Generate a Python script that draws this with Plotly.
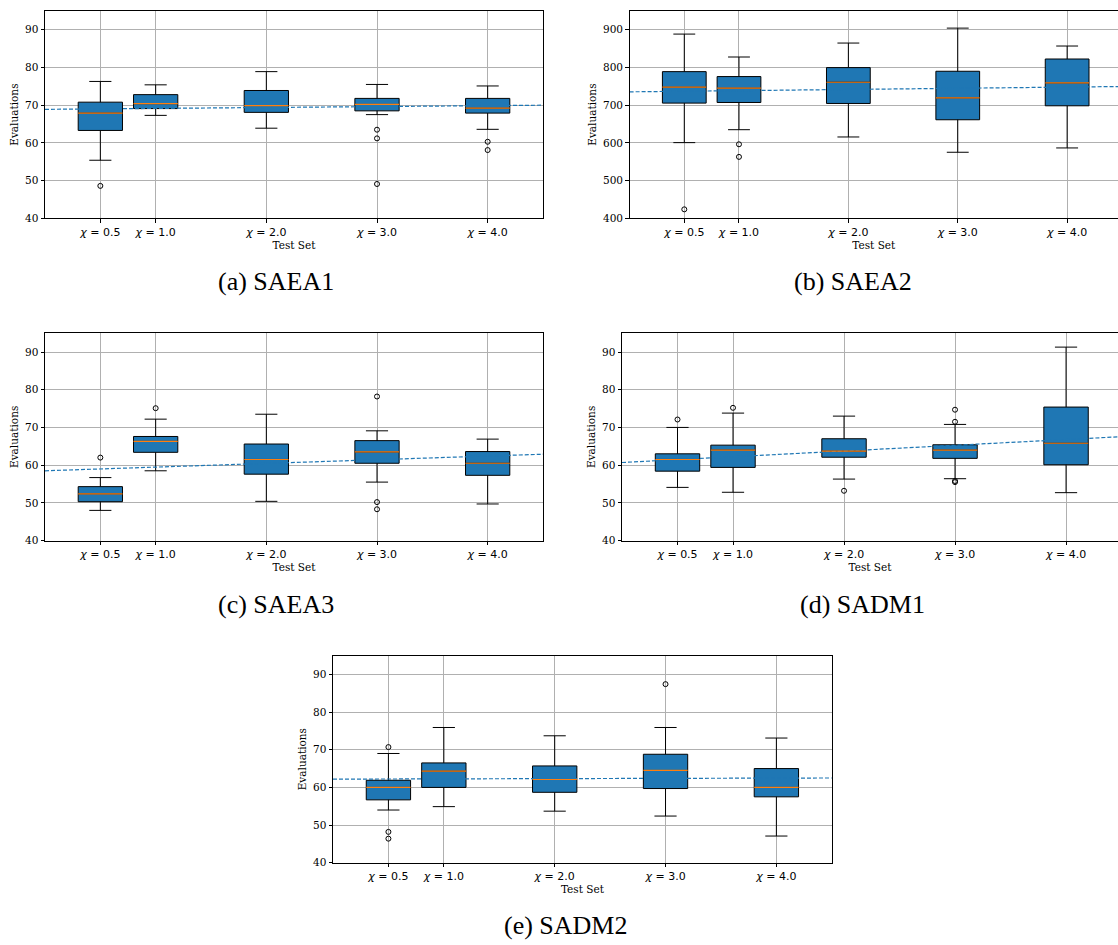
import plotly.graph_objects as go

# Test-set positions and labels
positions = [0.5, 1.0, 2.0, 3.0, 4.0]
tick_labels = ["<i>χ</i> = 0.5", "<i>χ</i> = 1.0", "<i>χ</i> = 2.0", "<i>χ</i> = 3.0", "<i>χ</i> = 4.0"]

# SAEA1
saea1_low = [55.4, 67.3, 63.9, 67.5, 63.6]
saea1_q1 = [63.3, 69.1, 68.1, 68.5, 67.9]
saea1_med = [67.9, 70.4, 69.9, 70.2, 69.2]
saea1_q3 = [70.8, 72.8, 73.9, 71.8, 71.8]
saea1_high = [76.3, 75.4, 78.9, 75.5, 75.1]
saea1_out_x = [0.5, 3.0, 3.0, 3.0, 4.0, 4.0]
saea1_out_y = [48.6, 63.5, 61.2, 49.1, 60.3, 58.1]
saea1_trend = [68.9, 70.0]

# SAEA2
saea2_low = [600.7, 635.0, 615.7, 575.2, 586.6]
saea2_q1 = [705.5, 707.2, 704.6, 661.4, 698.4]
saea2_med = [747.7, 745.0, 760.9, 719.5, 759.1]
saea2_q3 = [789.0, 775.9, 799.7, 790.0, 822.5]
saea2_high = [888.6, 827.8, 864.8, 904.4, 856.9]
saea2_out_x = [0.5, 1.0, 1.0]
saea2_out_y = [423.8, 596.3, 562.9]
saea2_trend = [735.4, 749.6]

# SAEA3
saea3_low = [48.0, 58.5, 50.4, 55.5, 49.7]
saea3_q1 = [50.3, 63.4, 57.6, 60.5, 57.3]
saea3_med = [52.4, 66.3, 61.5, 63.5, 60.5]
saea3_q3 = [54.3, 67.6, 65.6, 66.5, 63.6]
saea3_high = [56.7, 72.2, 73.5, 69.1, 66.9]
saea3_out_x = [0.5, 1.0, 3.0, 3.0, 3.0]
saea3_out_y = [62.0, 75.1, 78.2, 50.2, 48.3]
saea3_trend = [58.5, 62.9]

# SADM1
sadm1_low = [54.1, 52.8, 56.3, 56.4, 52.7]
sadm1_q1 = [58.4, 59.4, 62.1, 61.8, 60.1]
sadm1_med = [61.5, 64.0, 63.7, 64.0, 65.8]
sadm1_q3 = [63.0, 65.3, 67.0, 65.4, 75.4]
sadm1_high = [70.0, 73.8, 73.0, 70.8, 91.3]
sadm1_out_x = [0.5, 1.0, 2.0, 3.0, 3.0, 3.0, 3.0]
sadm1_out_y = [72.1, 75.2, 53.2, 74.7, 71.5, 55.8, 55.5]
sadm1_trend = [60.7, 67.55]

# SADM2
sadm2_low = [54.0, 54.9, 53.7, 52.4, 47.1]
sadm2_q1 = [56.7, 60.0, 58.7, 59.7, 57.5]
sadm2_med = [60.0, 64.3, 62.1, 64.5, 60.0]
sadm2_q3 = [61.9, 66.5, 65.7, 68.8, 65.0]
sadm2_high = [69.0, 75.9, 73.7, 75.9, 73.1]
sadm2_out_x = [0.5, 0.5, 0.5, 3.0]
sadm2_out_y = [70.7, 48.2, 46.4, 87.4]
sadm2_trend = [62.2, 62.5]

captions = ["(a) SAEA1", "(b) SAEA2", "(c) SAEA3", "(d) SADM1", "(e) SADM2"]

BLUE = "#1f77b4"
ORANGE = "#ff7f0e"
GRID = "#b0b0b0"
BOX_W = 0.4
X_SPAN = [0.0, 4.5]

W, H = 1118, 945


def px_x(a, b):
    return [a / W, b / W]


def px_y(top, bottom):
    return [1 - bottom / H, 1 - top / H]


panels = [
    dict(data=(saea1_low, saea1_q1, saea1_med, saea1_q3, saea1_high, saea1_out_x, saea1_out_y, saea1_trend),
         dx=px_x(45, 543), dy=px_y(11, 219.7), xr=[0, 4.5], yr=[40, 95], yt=[40, 50, 60, 70, 80, 90],
         clipped=False, cap=(276, 283)),
    dict(data=(saea2_low, saea2_q1, saea2_med, saea2_q3, saea2_high, saea2_out_x, saea2_out_y, saea2_trend),
         dx=[629.6 / W, 1.0], dy=px_y(11, 219.7), xr=[0, 4.465], yr=[400, 950],
         yt=[400, 500, 600, 700, 800, 900], clipped=True, cap=(853, 283)),
    dict(data=(saea3_low, saea3_q1, saea3_med, saea3_q3, saea3_high, saea3_out_x, saea3_out_y, saea3_trend),
         dx=px_x(45, 543), dy=px_y(335.3, 544), xr=[0, 4.5], yr=[40, 95], yt=[40, 50, 60, 70, 80, 90],
         clipped=False, cap=(276, 608)),
    dict(data=(sadm1_low, sadm1_q1, sadm1_med, sadm1_q3, sadm1_high, sadm1_out_x, sadm1_out_y, sadm1_trend),
         dx=[622 / W, 1.0], dy=px_y(335.3, 544), xr=[0, 4.468], yr=[40, 95], yt=[40, 50, 60, 70, 80, 90],
         clipped=True, cap=(862, 608)),
    dict(data=(sadm2_low, sadm2_q1, sadm2_med, sadm2_q3, sadm2_high, sadm2_out_x, sadm2_out_y, sadm2_trend),
         dx=px_x(333, 831.8), dy=px_y(659.7, 868.3), xr=[0, 4.5], yr=[40, 95], yt=[40, 50, 60, 70, 80, 90],
         clipped=False, cap=(566, 931)),
]

fig = go.Figure()
layout = dict(
    width=W, height=H, margin=dict(l=0, r=0, t=0, b=0),
    paper_bgcolor="white", plot_bgcolor="white", showlegend=False,
    annotations=[],
)

for i, p in enumerate(panels):
    n = i + 1
    xa = "x" if n == 1 else f"x{n}"
    ya = "y" if n == 1 else f"y{n}"
    low, q1, med, q3, high, ox, oy, trend = p["data"]

    # dashed trend line across the full test-set span
    fig.add_trace(go.Scatter(
        x=X_SPAN, y=trend, mode="lines", xaxis=xa, yaxis=ya,
        line=dict(color=BLUE, width=1.2, dash="4px,2px"), hoverinfo="skip",
    ))

    # boxes from precomputed quartiles and whisker ends
    fig.add_trace(go.Box(
        x=positions, q1=q1, median=med, q3=q3, lowerfence=low, upperfence=high,
        width=BOX_W, whiskerwidth=0.5, fillcolor=BLUE,
        line=dict(color="black", width=1), boxpoints=False,
        xaxis=xa, yaxis=ya,
    ))

    # orange median bars across each box
    mx, my = [], []
    for pos, m in zip(positions, med):
        mx += [pos - BOX_W / 2, pos + BOX_W / 2, None]
        my += [m, m, None]
    fig.add_trace(go.Scatter(
        x=mx, y=my, mode="lines", xaxis=xa, yaxis=ya,
        line=dict(color=ORANGE, width=1.2), hoverinfo="skip",
    ))

    # outliers
    fig.add_trace(go.Scatter(
        x=ox, y=oy, mode="markers", xaxis=xa, yaxis=ya,
        marker=dict(symbol="circle-open", size=5, color="black", line=dict(width=1)),
        hoverinfo="skip",
    ))

    xkey = "xaxis" if n == 1 else f"xaxis{n}"
    ykey = "yaxis" if n == 1 else f"yaxis{n}"
    layout[xkey] = dict(
        domain=p["dx"], range=p["xr"], anchor=ya,
        tickmode="array", tickvals=positions, ticktext=tick_labels,
        tickfont=dict(family="DejaVu Sans", size=11, color="black"),
        showgrid=True, gridcolor=GRID, gridwidth=0.8, zeroline=False,
        showline=True, linecolor="black", linewidth=1, mirror=True,
        ticks="outside", ticklen=3.5, tickcolor="black", tickwidth=0.8,
        title=dict(text="Test Set", font=dict(family="DejaVu Serif", size=10.5, color="black"), standoff=1),
    )
    layout[ykey] = dict(
        domain=p["dy"], range=p["yr"], anchor=xa,
        tickmode="array", tickvals=p["yt"],
        tickfont=dict(family="DejaVu Serif", size=10.5, color="black"),
        showgrid=True, gridcolor=GRID, gridwidth=0.8, zeroline=False,
        showline=True, linecolor="black", linewidth=1, mirror=not p["clipped"],
        ticks="outside", ticklen=3.5, tickcolor="black", tickwidth=0.8,
        title=dict(text="Evaluations", font=dict(family="DejaVu Serif", size=10.5, color="black"), standoff=4),
    )

    cx, cy = p["cap"]
    layout["annotations"].append(dict(
        text=captions[i], x=cx / W, y=1 - cy / H, xref="paper", yref="paper",
        showarrow=False, xanchor="center", yanchor="middle",
        font=dict(family="Liberation Serif, Times New Roman, serif", size=26, color="black"),
    ))

fig.update_layout(**layout)
fig.write_html("out.html")
